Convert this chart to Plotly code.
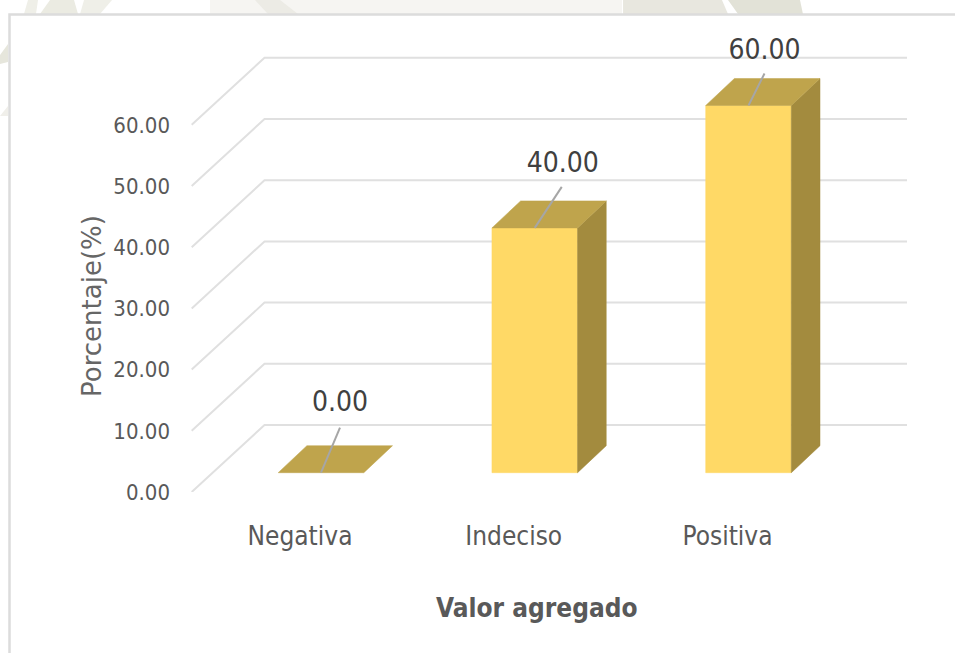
import plotly.graph_objects as go

categories = ["Negativa", "Indeciso", "Positiva"]
values = [0.0, 40.0, 60.0]
y_ticks = [0, 10, 20, 30, 40, 50, 60]
y_tick_labels = ["0.00", "10.00", "20.00", "30.00", "40.00", "50.00", "60.00"]

W, H = 955, 653
PX_X = 213.75          # px per category
PX_Y = 6.12            # px per percent
X0_PX, Y0_PX = 321.0, 492.0   # px of category 0 centre, value 0
L_PX, T_PX, R_PX = 175.0, 40.0, 955.0

def ux(px): return px / PX_X
def uy(px): return px / PX_Y

xs = list(range(len(categories)))
x_range = [ux(L_PX - X0_PX), ux(R_PX - X0_PX)]
y_range = [0, uy(Y0_PX - T_PX)]

BAR_W = ux(85.6)
BAR_DX, BAR_DY = ux(28.7), uy(27)
BASE = uy(19.3)
GRID_FRONT = ux(191.7 - X0_PX)
GRID_BACK = ux(264.5 - X0_PX)
GRID_END = ux(907 - X0_PX)
GRID_DY = uy(67)
TICK_SHIFT = ux(-21)

FONT = "DejaVu Sans Condensed, Roboto, sans-serif"
fig = go.Figure()

gx, gy = [], []
for t in y_ticks:
    gx += [GRID_FRONT, GRID_BACK, GRID_END, None]
    gy += [t, t + GRID_DY, t + GRID_DY, None]
fig.add_trace(go.Scatter(x=gx, y=gy, mode="lines", line=dict(color="#e0e0e0", width=2),
                         hoverinfo="skip", showlegend=False, cliponaxis=False))

def poly(px, py, color):
    fig.add_trace(go.Scatter(x=px + px[:1], y=py + py[:1], mode="lines", fill="toself",
                             fillcolor=color, line=dict(color=color, width=0.5),
                             hoverinfo="skip", showlegend=False))

for x, v in zip(xs, values):
    l, r = x - BAR_W / 2, x + BAR_W / 2
    b, t = BASE, BASE + v
    if v > 0:
        poly([l, r, r, l], [b, b, t, t], "#FFD966")
        poly([r, r + BAR_DX, r + BAR_DX, r], [b, b + BAR_DY, t + BAR_DY, t], "#A38B3E")
    poly([l, r, r + BAR_DX, l + BAR_DX], [t, t, t + BAR_DY, t + BAR_DY], "#BFA44C")

leader_dx = [19, 27, 16]
leader_dy = [45, 41, 32]
label_dx = [19, 28, 16]
label_dy = [69, 63, 54]
lx, ly, tx, ty = [], [], [], []
for x, v, a, b, c, d in zip(xs, values, leader_dx, leader_dy, label_dx, label_dy):
    top = BASE + v
    lx += [x, x + ux(a), None]
    ly += [top, top + uy(b), None]
    tx.append(x + ux(c))
    ty.append(top + uy(d))
fig.add_trace(go.Scatter(x=lx, y=ly, mode="lines", line=dict(color="#a6a6a6", width=2),
                         hoverinfo="skip", showlegend=False))
fig.add_trace(go.Scatter(x=tx, y=ty, mode="text", text=[f"{v:.2f}" for v in values],
                         textposition="middle center", textfont=dict(family=FONT, size=28, color="#404040"),
                         hoverinfo="skip", showlegend=False, cliponaxis=False))

def pg(points, color):
    path = "M " + " L ".join(f"{a/W:.4f} {1-b/H:.4f}" for a, b in points) + " Z"
    return dict(type="path", xref="paper", yref="paper", path=path, fillcolor=color,
                line=dict(width=0), layer="below")

shapes = [
    pg([(24, 14), (28, 0), (38, 0), (36, 14)], "#efefe8"),
    pg([(40, 14), (50, 0), (74, 0), (78, 14)], "#ebebe2"),
    pg([(80, 14), (84, 0), (112, 0), (100, 14)], "#efefe8"),
    pg([(210, 0), (622, 0), (622, 14), (210, 14)], "#f6f5f2"),
    pg([(255, 0), (280, 0), (298, 14), (268, 14)], "#ecebe5"),
    pg([(623, 0), (722, 0), (728, 14), (623, 14)], "#e8e7df"),
    pg([(728, 0), (800, 0), (803, 14), (738, 14)], "#e2e2d7"),
    pg([(0, 55), (8, 44), (8, 62), (0, 64)], "#e6e6dc"),
    pg([(0, 116), (8, 106), (8, 116)], "#f0efea"),
    dict(type="rect", xref="paper", yref="paper", x0=9.5 / W, x1=1.01, y0=-0.01, y1=1 - 14.5 / H,
         line=dict(color="#dcdcdc", width=2.5), fillcolor="white", layer="below"),
]

fig.update_layout(
    width=W, height=H, margin=dict(l=0, r=0, t=0, b=0), paper_bgcolor="white", plot_bgcolor="rgba(0,0,0,0)",
    showlegend=False, shapes=shapes,
    xaxis=dict(domain=[L_PX / W, R_PX / W], range=x_range, tickmode="array",
               tickvals=[x + TICK_SHIFT for x in xs], ticktext=categories,
               showgrid=False, zeroline=False, showline=False, ticks="", ticklabelstandoff=26, automargin=False,
               tickfont=dict(family=FONT, size=26, color="#595959")),
    yaxis=dict(domain=[1 - Y0_PX / H, 1 - T_PX / H], range=y_range, tickmode="array", tickvals=y_ticks,
               ticktext=y_tick_labels, showgrid=False, zeroline=False, showline=False, ticks="", automargin=False,
               ticklabelstandoff=4, tickfont=dict(family=FONT, size=22, color="#595959")),
    annotations=[
        dict(text="<b>Valor agregado</b>", xref="paper", yref="paper", x=536.5 / W, y=1 - 608 / H, showarrow=False,
             xanchor="center", yanchor="middle", font=dict(family=FONT, size=26, color="#595959")),
        dict(text="Porcentaje(%)", xref="paper", yref="paper", x=92 / W, y=1 - 306 / H, showarrow=False,
             xanchor="center", yanchor="middle", textangle=-90,
             font=dict(family="DejaVu Sans, sans-serif", size=26, color="#666666")),
    ],
)
fig.write_html("out.html", config=dict(displayModeBar=False), post_script="document.body.style.margin='0';")
